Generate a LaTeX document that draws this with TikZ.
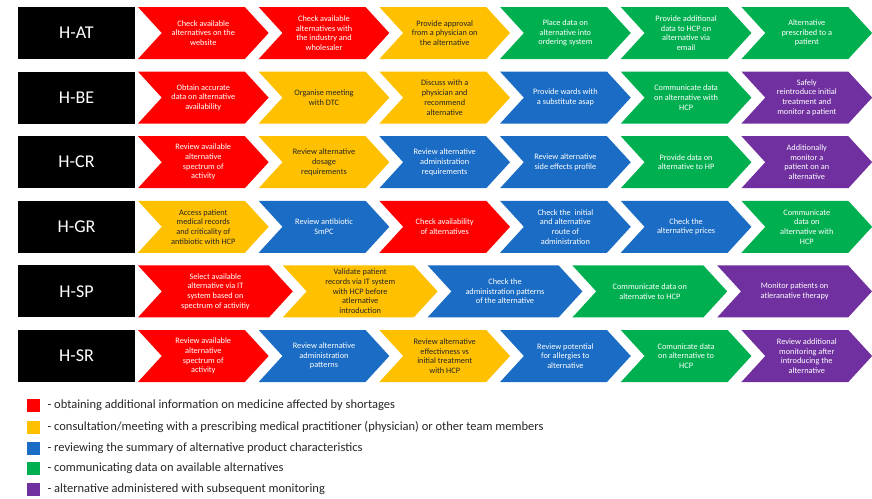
\documentclass[tikz,border=0pt]{standalone}
\usepackage{fontspec}
\setmainfont{Carlito}
\usetikzlibrary{shapes.symbols}
\definecolor{obtainc}{HTML}{FF0000}
\definecolor{consultc}{HTML}{FFC000}
\definecolor{reviewc}{HTML}{1A6CC4}
\definecolor{informc}{HTML}{00B050}
\definecolor{monitorc}{HTML}{7030A0}
\definecolor{darktext}{HTML}{262626}

\begin{document}
\begin{tikzpicture}[x=1pt,y=-1pt,
  site/.style={fill=black,text=white,minimum width=117pt,minimum height=52pt,
    inner sep=0pt,font=\fontsize{18}{20}\selectfont},
  chev/.style={signal,signal to=east,signal from=west,signal pointer angle=95,
    minimum height=52pt,minimum width=130.7pt,inner sep=1pt,align=center,
    font=\fontsize{8.3}{9.7}\selectfont},
  longchev/.style={chev,minimum width=154.8pt},
  obtain/.style={fill=obtainc,text=white},
  consult/.style={fill=consultc,text=darktext},
  review/.style={fill=reviewc,text=white},
  inform/.style={fill=informc,text=white},
  monitor/.style={fill=monitorc,text=white},
  key/.style={minimum size=13pt,inner sep=0pt},
  keytext/.style={anchor=west,text=darktext,font=\fontsize{12.5}{15}\selectfont}]
  \useasboundingbox (0,0) rectangle (872,498);
  % H-AT
  \begin{scope}[yshift=-33pt]
    \node[site] (at) at (76.5,0){H-AT};
    \node[chev,obtain]  (at1) at (203.3,0){Check available\\alternatives on the\\website};
    \node[chev,obtain]  (at2) at (324.0,0){Check available\\alternatives with\\the industry and\\wholesaler};
    \node[chev,consult] (at3) at (444.7,0){Provide approval\\from a physician on\\the alternative};
    \node[chev,inform]  (at4) at (565.4,0){Place data on\\alternative into\\ordering system};
    \node[chev,inform]  (at5) at (686.1,0){Provide additional\\data to HCP on\\alternative via\\email};
    \node[chev,inform]  (at6) at (806.8,0){Alternative\\prescribed to a\\patient};
  \end{scope}
  % H-BE
  \begin{scope}[yshift=-97.6pt]
    \node[site] (be) at (76.5,0){H-BE};
    \node[chev,obtain]  (be1) at (203.3,0){Obtain accurate\\data on alternative\\availability};
    \node[chev,consult] (be2) at (324.0,0){Organise meeting\\with DTC};
    \node[chev,consult] (be3) at (444.7,0){Discuss with a\\physician and\\recommend\\alternative};
    \node[chev,review]  (be4) at (565.4,0){Provide wards with\\a substitute asap};
    \node[chev,inform]  (be5) at (686.1,0){Communicate data\\on alternative with\\HCP};
    \node[chev,monitor] (be6) at (806.8,0){Safely\\reintroduce initial\\treatment and\\monitor a patient};
  \end{scope}
  % H-CR
  \begin{scope}[yshift=-162.2pt]
    \node[site] (cr) at (76.5,0){H-CR};
    \node[chev,obtain]  (cr1) at (203.3,0){Review available\\alternative\\spectrum of\\activity};
    \node[chev,consult] (cr2) at (324.0,0){Review alternative\\dosage\\requirements};
    \node[chev,review]  (cr3) at (444.7,0){Review alternative\\administration\\requirements};
    \node[chev,review]  (cr4) at (565.4,0){Review alternative\\side effects profile};
    \node[chev,inform]  (cr5) at (686.1,0){Provide data on\\alternative to HP};
    \node[chev,monitor] (cr6) at (806.8,0){Additionally\\monitor a\\patient on an\\alternative};
  \end{scope}
  % H-GR
  \begin{scope}[yshift=-226.8pt]
    \node[site] (gr) at (76.5,0){H-GR};
    \node[chev,consult] (gr1) at (203.3,0){Access patient\\medical records\\and criticality of\\antibiotic with HCP};
    \node[chev,review]  (gr2) at (324.0,0){Review antibiotic\\SmPC};
    \node[chev,obtain]  (gr3) at (444.7,0){Check availability\\of alternatives};
    \node[chev,review]  (gr4) at (565.4,0){Check the \ initial\\and alternative\\route of\\administration};
    \node[chev,review]  (gr5) at (686.1,0){Check the\\alternative prices};
    \node[chev,inform]  (gr6) at (806.8,0){Communicate\\data on\\alternative with\\HCP};
  \end{scope}
  % H-SP (five steps, wider)
  \begin{scope}[yshift=-291.4pt]
    \node[site] (sp) at (76.5,0){H-SP};
    \node[longchev,obtain]  (sp1) at (215.4,0){Select available\\alternative via IT\\system based on\\spectrum of activitiy};
    \node[longchev,consult] (sp2) at (360.2,0){Validate patient\\records via IT system\\with HCP before\\atlernative\\introduction};
    \node[longchev,review]  (sp3) at (505.0,0){Check the\\administration patterns\\of the alternative};
    \node[longchev,inform]  (sp4) at (649.8,0){Communicate data on\\alternative to HCP};
    \node[longchev,monitor] (sp5) at (794.6,0){Monitor patients on\\atleranative therapy};
  \end{scope}
  % H-SR
  \begin{scope}[yshift=-356pt]
    \node[site] (sr) at (76.5,0){H-SR};
    \node[chev,obtain]  (sr1) at (203.3,0){Review available\\alternative\\spectrum of\\activity};
    \node[chev,review]  (sr2) at (324.0,0){Review alternative\\administration\\patterns};
    \node[chev,consult] (sr3) at (444.7,0){Review alternative\\effectivness vs\\initial treatment\\with HCP};
    \node[chev,review]  (sr4) at (565.4,0){Review potential\\for allergies to\\alternative};
    \node[chev,inform]  (sr5) at (686.1,0){Comunicate data\\on alternative to\\HCP};
    \node[chev,monitor] (sr6) at (806.8,0){Review additional\\monitoring after\\introducing the\\alternative};
  \end{scope}
  % legend
  \node[key,fill=obtainc]  (k1) at (33,405){};
  \node[key,fill=consultc] (k2) at (33,427){};
  \node[key,fill=reviewc]  (k3) at (33,448){};
  \node[key,fill=informc]  (k4) at (33,468){};
  \node[key,fill=monitorc] (k5) at (33,489){};
  \node[keytext] (t1) at (44,405){- obtaining additional information on medicine affected by shortages};
  \node[keytext] (t2) at (44,427){- consultation/meeting with a prescribing medical practitioner (physician) or other team members};
  \node[keytext] (t3) at (44,448){- reviewing the summary of alternative product characteristics};
  \node[keytext] (t4) at (44,468){- communicating data on available alternatives};
  \node[keytext] (t5) at (44,489){- alternative administered with subsequent monitoring};
\end{tikzpicture}
\end{document}
